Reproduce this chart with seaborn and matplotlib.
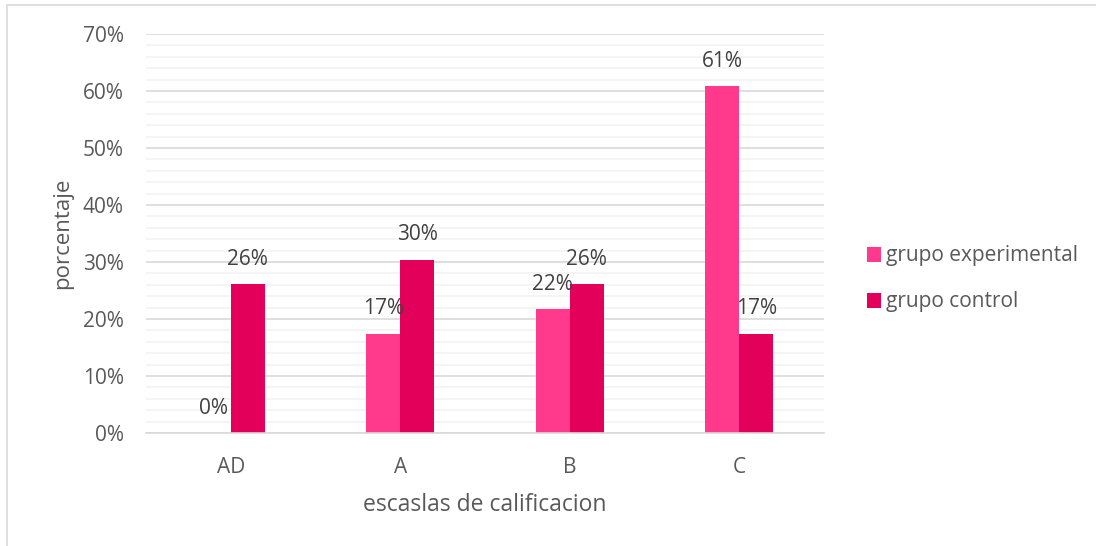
import matplotlib
matplotlib.use("Agg")
import matplotlib.pyplot as plt
import matplotlib.ticker as mticker
from matplotlib.lines import Line2D
from matplotlib.patches import Patch
import seaborn as sns
import pandas as pd

categories = ["AD", "A", "B", "C"]
series_names = ["grupo experimental", "grupo control"]
experimental = [0.0, 0.1739, 0.2174, 0.6087]
control = [0.2609, 0.3043, 0.2609, 0.1739]
colors = ["#FF3A8C", "#E3005A"]

sns.set_theme(style="white")
plt.rcParams["font.family"] = ["Open Sans", "DejaVu Sans"]

df = pd.DataFrame({
    "cat": categories * 2,
    "serie": [series_names[0]] * 4 + [series_names[1]] * 4,
    "val": experimental + control,
})

fig = plt.figure(figsize=(10.96, 5.46), dpi=100)
ax = fig.add_axes([146 / 1096, 1 - 433 / 546, (824 - 146) / 1096, (433 - 34) / 546])

sns.barplot(data=df, x="cat", y="val", hue="serie", order=categories,
            hue_order=series_names, palette=colors, width=0.4, saturation=1,
            ax=ax, legend=False, linewidth=0)

ax.set_ylim(0, 0.70)
ax.set_xlim(-0.5, 3.5)
ax.yaxis.set_major_locator(mticker.MultipleLocator(0.1))
ax.yaxis.set_minor_locator(mticker.MultipleLocator(0.02))
ax.yaxis.set_major_formatter(mticker.FuncFormatter(lambda v, p: f"{v*100:.0f}%"))
ax.grid(which="major", axis="y", color="#D9D9D9", linewidth=1.2)
ax.grid(which="minor", axis="y", color="#F2F2F2", linewidth=1.2)
ax.set_axisbelow(True)
for s in ["top", "right", "left"]:
    ax.spines[s].set_visible(False)
ax.spines["bottom"].set_color("#D9D9D9")
ax.spines["bottom"].set_linewidth(1.2)
ax.tick_params(axis="both", which="both", length=0, labelcolor="#595959", labelsize=15)
ax.tick_params(axis="y", pad=16)
ax.tick_params(axis="x", pad=17)

ax.set_xlabel("escaslas de calificacion", fontsize=16.5, color="#595959", labelpad=11)
ax.set_ylabel("porcentaje", fontsize=16, color="#595959", labelpad=7)

for cont in ax.containers:
    for bar in cont:
        h = bar.get_height()
        ax.annotate(f"{h*100:.0f}%", (bar.get_x() + bar.get_width() / 2, h),
                    xytext=(0, 18), textcoords="offset points",
                    ha="center", va="center", fontsize=15, color="#404040")

handles = [Patch(facecolor=c, edgecolor="none") for c in colors]
fig.legend(handles, series_names, loc="center left",
           bbox_to_anchor=(848 / 1096, 1 - 279 / 546), frameon=False,
           fontsize=15, labelcolor="#595959", handlelength=0.7, handleheight=0.7,
           handletextpad=0.2, labelspacing=1.2)

# outer chart border (top and left visible)
fig.add_artist(Line2D([7 / 1096, 1.0], [1 - 5 / 546, 1 - 5 / 546], color="#D9D9D9", lw=1.2))
fig.add_artist(Line2D([7 / 1096, 7 / 1096], [0.0, 1 - 5 / 546], color="#D9D9D9", lw=1.2))

fig.savefig("out.png", dpi=100)
